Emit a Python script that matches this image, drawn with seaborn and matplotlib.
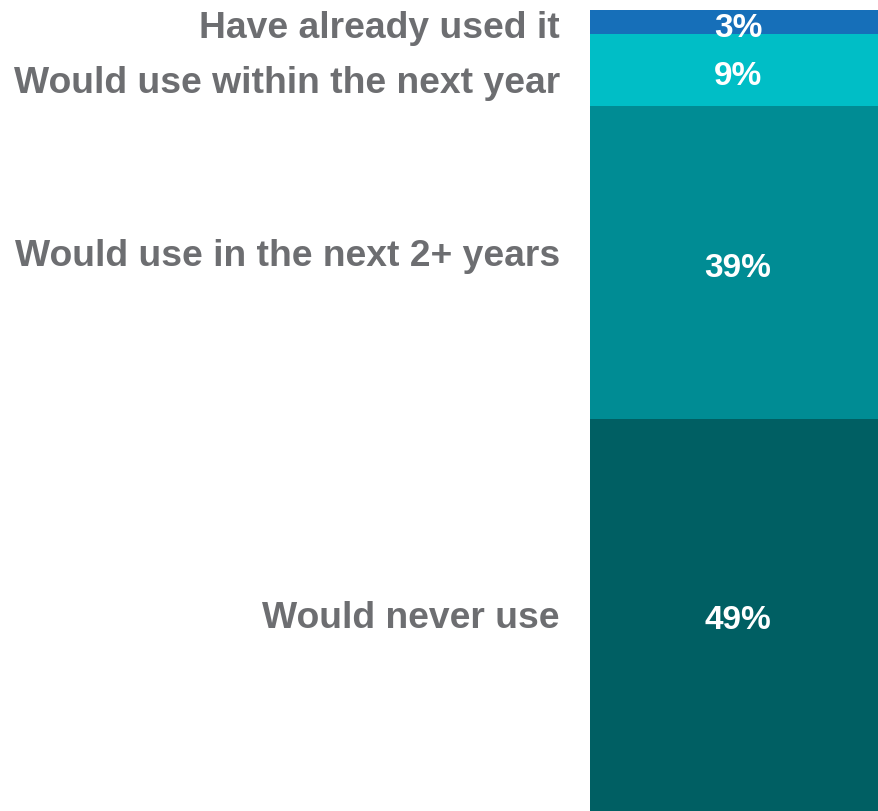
import matplotlib
matplotlib.use("Agg")
import matplotlib.pyplot as plt
import matplotlib.transforms as mtransforms
import seaborn as sns
import numpy as np
import pandas as pd

# Data (top to bottom in the bar)
categories = ["Have already used it", "Would use within the next year",
              "Would use in the next 2+ years", "Would never use"]
values = [3, 9, 39, 49]
pct_labels = ["3%", "9%", "39%", "49%"]
colors = ["#166FB9", "#00BEC6", "#008C94", "#005F63"]

sns.set_theme(style="white")
plt.rcParams["font.family"] = ["Liberation Sans", "DejaVu Sans"]

W, H = 879, 812
fig = plt.figure(figsize=(W / 100, H / 100), dpi=100)
ax = fig.add_axes([590 / W, 0, 296 / W, 801 / H])

# cumulative tops from the bottom of the bar
vals_bottom_up = values[::-1]
tops = np.cumsum(vals_bottom_up)[::-1]          # top-of-stack order: 100, 97, 88, 49
bottoms = tops - np.array(values)

for top, col in zip(tops, colors):
    df = pd.DataFrame({"g": [""], "v": [top]})
    sns.barplot(data=df, x="g", y="v", color=col, width=1.0, ax=ax,
                saturation=1, linewidth=0, edgecolor=col)

ax.set_xlim(-0.5, 0.5)
ax.set_ylim(0, 100)
ax.axis("off")

centers = bottoms + np.array(values) / 2
label_shift = [-0.25, -1.2, 1.2, 0]
trans = mtransforms.offset_copy(ax.transData, fig=fig, x=-30, y=-3, units="dots")
for cat, c, s in zip(categories, centers, label_shift):
    ax.text(-0.5, c + s, cat, transform=trans, ha="right", va="center",
            fontsize=26.8, fontweight="bold", color="#6D6E71", clip_on=False)

trans2 = mtransforms.offset_copy(ax.transData, fig=fig, x=0, y=-5, units="dots")
for lab, c in zip(pct_labels, centers):
    ax.text(0.0, c, lab, transform=trans2, ha="center", va="center", fontsize=24,
            fontweight="bold", color="white",
            family=["Liberation Sans Narrow", "Liberation Sans", "DejaVu Sans"])

fig.savefig("out.png", dpi=100)
